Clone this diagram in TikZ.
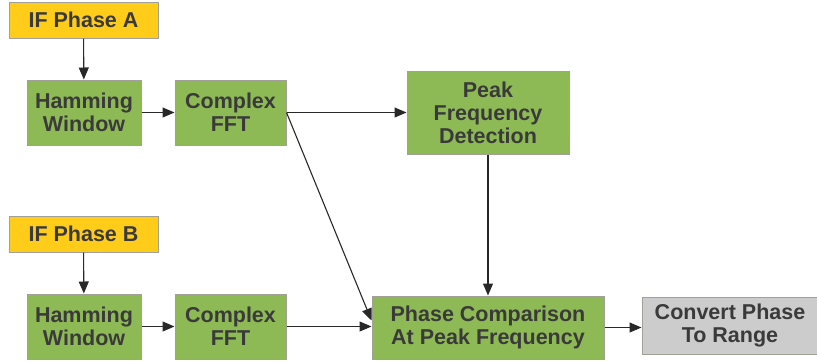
\documentclass[tikz,border=0pt]{standalone}
\usepackage{fontspec}
\setmainfont{Liberation Sans}
\usetikzlibrary{arrows.meta}
\definecolor{boxgreen}{RGB}{142,186,86}
\definecolor{boxyellow}{RGB}{255,204,26}
\definecolor{boxgray}{RGB}{204,204,204}
\definecolor{edgegray}{RGB}{160,160,150}
\definecolor{txt}{RGB}{58,58,58}
\definecolor{wire}{RGB}{40,40,40}
\begin{document}
\begin{tikzpicture}[x=1pt,y=-1pt,
  blk/.style={draw=edgegray,line width=1pt,inner sep=0pt,align=center,
    text=txt,font=\fontsize{21.5}{23}\selectfont\bfseries},
  gblk/.style={blk,fill=boxgreen},
  yblk/.style={blk,fill=boxyellow},
  hblk/.style={blk,fill=boxgray},
  conn/.style={draw=wire,line width=1.1pt,-{Triangle[length=12pt,width=10pt]}}]
\useasboundingbox (0,0) rectangle (817,362);
\node[yblk,minimum width=149pt,minimum height=36pt] (ifa) at (83.5,20) {IF Phase A};
\node[gblk,minimum width=114pt,minimum height=65pt] (ham1) at (84,112.5) {Hamming\\Window};
\node[gblk,minimum width=111pt,minimum height=65pt] (fft1) at (230.5,112.5) {Complex\\FFT};
\node[gblk,minimum width=162pt,minimum height=83pt] (peak) at (488,112.5) {Peak\\Frequency\\Detection};
\node[yblk,minimum width=149pt,minimum height=36pt] (ifb) at (83.5,234) {IF Phase B};
\node[gblk,minimum width=114pt,minimum height=65pt] (ham2) at (84,326.5) {Hamming\\Window};
\node[gblk,minimum width=111pt,minimum height=65pt] (fft2) at (230.5,326.5) {Complex\\FFT};
\node[gblk,minimum width=232pt,minimum height=63pt] (phase) at (488,327.5) {Phase Comparison\\At Peak Frequency};
\node[hblk,minimum width=176pt,minimum height=57pt] (conv) at (730,325.5) {Convert Phase\\To Range};
\draw[conn] (ifa) -- (ham1);
\draw[conn] (ham1) -- (fft1);
\draw[conn] (fft1) -- (peak);
\draw[conn] (fft1.east) -- ([yshift=7pt]phase.west);
\draw[conn] (peak) -- (phase);
\draw[conn] (ifb) -- (ham2);
\draw[conn] (ham2) -- (fft2);
\draw[conn] (fft2.east) -- (fft2.east -| phase.west);
\draw[conn] (phase.east) -- (phase.east -| conv.west);
\end{tikzpicture}
\end{document}
